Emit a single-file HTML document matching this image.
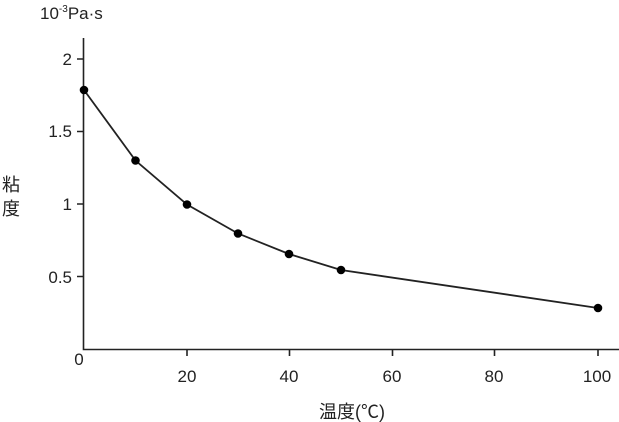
<!DOCTYPE html>
<html><head><meta charset="utf-8"><style>
body{margin:0;background:#fff}
svg{display:block}
text{font-family:"Liberation Sans","Noto Sans CJK JP",sans-serif;fill:#222}
</style></head><body>
<svg width="619" height="422" viewBox="0 0 619 422">
<g stroke="#222" stroke-width="1.6" fill="none">
<path d="M83.5 38 V349.5 H619"/>
<path d="M77 59H83.5M77 131.5H83.5M77 204H83.5M77 276.5H83.5"/>
<path d="M187 349.5V356M289.5 349.5V356M392.5 349.5V356M494.5 349.5V356M598 349.5V356"/>
<polyline stroke-width="1.8" points="84,90 135.5,160.5 187,204.5 238,233.5 289,254 341,270 598,308"/>
</g>
<g fill="#000">
<circle cx="84" cy="90" r="4.3"/><circle cx="135.5" cy="160.5" r="4.3"/><circle cx="187" cy="204.5" r="4.3"/><circle cx="238" cy="233.5" r="4.3"/><circle cx="289" cy="254" r="4.3"/><circle cx="341" cy="270" r="4.3"/><circle cx="598" cy="308" r="4.3"/>
</g>
<g font-size="17" text-anchor="end">
<text x="72" y="65">2</text><text x="72" y="137">1.5</text><text x="72" y="210">1</text><text x="72" y="283">0.5</text>
</g>
<g font-size="17" text-anchor="middle">
<text x="79" y="365">0</text><text x="187" y="382">20</text><text x="289" y="382">40</text><text x="392" y="382">60</text><text x="494" y="382">80</text><text x="597" y="382">100</text>
</g>
<g font-size="18" text-anchor="middle">
<text x="352" y="418">温度(℃)</text>
<text x="11" y="191">粘</text><text x="11" y="215">度</text>
</g>
<text x="40" y="19" font-size="17">10<tspan font-size="10" dy="-7">-3</tspan><tspan dy="7">Pa·s</tspan></text>
</svg>
</body></html>
